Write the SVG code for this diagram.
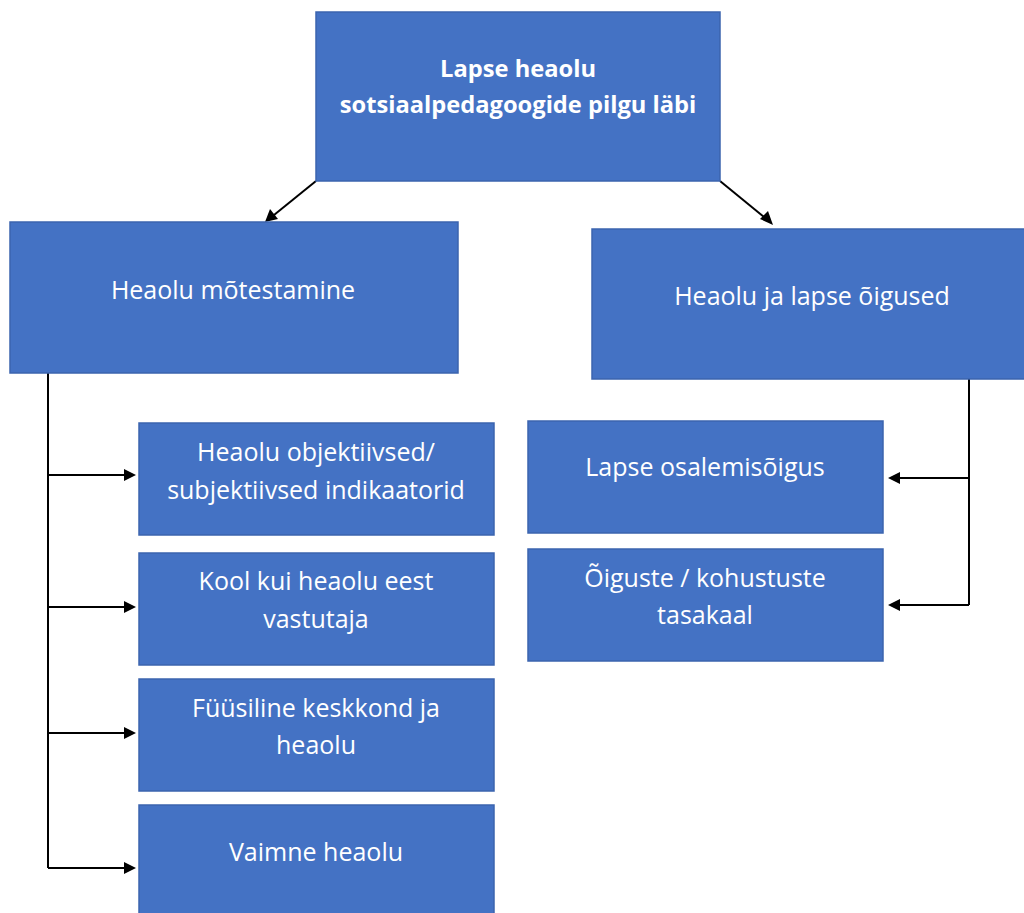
<svg xmlns="http://www.w3.org/2000/svg" width="1024" height="913" viewBox="0 0 1024 913">
<defs>
<style>
.box{fill:#4472C4;stroke:#3B64AE;stroke-width:1.5}
.t{font-family:"Open Sans",Lato,"Liberation Sans",sans-serif;font-size:25px;fill:#fff;text-anchor:middle;dominant-baseline:middle}
.b{font-weight:bold;font-size:23.7px}
.c{fill:none;stroke:#000;stroke-width:2}
</style>
</defs>
<rect width="1024" height="913" fill="#fff"/>
<g id="connectors">
<path class="c" d="M316,181 L274,215"/>
<path class="c" d="M720,181 L764,217"/>
<path class="c" d="M48,373 V868"/>
<path class="c" d="M48,475 H127"/>
<path class="c" d="M48,607 H127"/>
<path class="c" d="M48,733 H127"/>
<path class="c" d="M48,868 H127"/>
<path class="c" d="M969,379 V605"/>
<path class="c" d="M969,478 H898"/>
<path class="c" d="M969,605 H898"/>
<path d="M136,475 L124,469 L124,481 z"/>
<path d="M136,607 L124,601 L124,613 z"/>
<path d="M136,733 L124,727 L124,739 z"/>
<path d="M136,868 L124,862 L124,874 z"/>
<path d="M888,478 L900,472 L900,484 z"/>
<path d="M888,605 L900,599 L900,611 z"/>
<path d="M265,222 L270,209 L278,219 z"/>
<path d="M773,225 L760,219 L768,211 z"/>
</g>
<g id="root"><rect class="box" x="316" y="12" width="404" height="169"/>
<text class="t b" x="518" y="71">Lapse heaolu</text>
<text class="t b" x="518" y="107">sotsiaalpedagoogide pilgu läbi</text></g>
<g id="measure"><rect class="box" x="10" y="222" width="448" height="151"/>
<text class="t" x="233" y="292">Heaolu mõtestamine</text></g>
<g id="rights"><rect class="box" x="592" y="229" width="440" height="150"/>
<text class="t" x="812" y="298">Heaolu ja lapse õigused</text></g>
<g id="indicators"><rect class="box" x="139" y="423" width="355" height="112"/>
<text class="t" x="316" y="454">Heaolu objektiivsed/</text>
<text class="t" x="316" y="492">subjektiivsed indikaatorid</text></g>
<g id="school"><rect class="box" x="139" y="553" width="355" height="112"/>
<text class="t" x="316" y="583">Kool kui heaolu eest</text>
<text class="t" x="316" y="621">vastutaja</text></g>
<g id="physical"><rect class="box" x="139" y="679" width="355" height="112"/>
<text class="t" x="316" y="710">Füüsiline keskkond ja</text>
<text class="t" x="316" y="747">heaolu</text></g>
<g id="mental"><rect class="box" x="139" y="805" width="355" height="120"/>
<text class="t" x="316" y="854">Vaimne heaolu</text></g>
<g id="participation"><rect class="box" x="528" y="421" width="355" height="112"/>
<text class="t" x="705" y="469">Lapse osalemisõigus</text></g>
<g id="balance"><rect class="box" x="528" y="549" width="355" height="112"/>
<text class="t" x="705" y="580">Õiguste / kohustuste</text>
<text class="t" x="705" y="617">tasakaal</text></g>
</svg>
